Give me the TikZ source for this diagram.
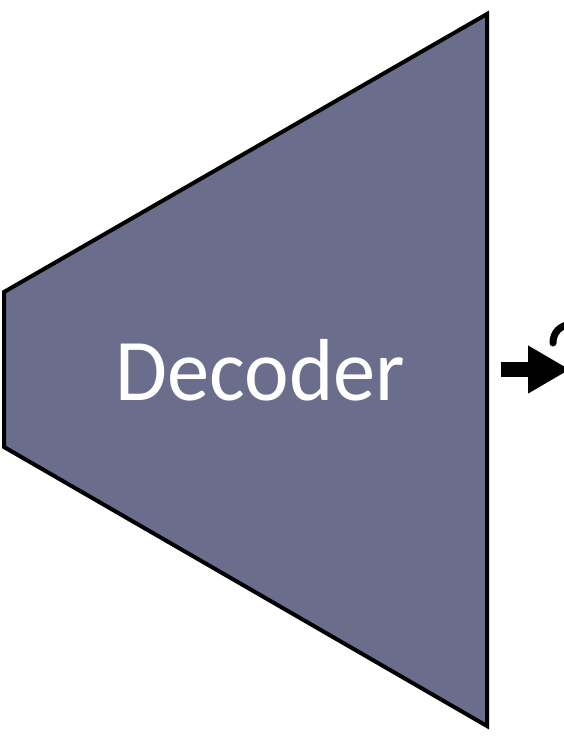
\documentclass[tikz,border=0pt]{standalone}
\usepackage{fontspec}
\setmainfont{Carlito}[FakeStretch=0.96]
\usetikzlibrary{arrows.meta}
\definecolor{decfill}{HTML}{6A6E8C}
\tikzset{
  decshape/.style={fill=decfill, draw=black, line width=4pt, line join=miter},
  outarrow/.style={line width=15pt, -{Triangle[length=42pt,width=45pt]}},
  declabel/.style={text=white, font=\fontsize{88}{100}\selectfont, anchor=base, inner sep=0pt}
}
\begin{document}
\begin{tikzpicture}[x=1pt,y=-1pt]
\useasboundingbox (0,0) rectangle (564,748);
\clip (0,0) rectangle (564,748);
\draw[decshape] (4,292) -- (487,14) -- (487,726) -- (4,447) -- cycle;
\node[declabel] (dec) at (260.5,400) {Decoder};
\coordinate (aout) at (501,369.5);
\coordinate (aend) at (570,369.5);
\draw[outarrow] (aout) -- (aend);
\draw[line width=7pt, line cap=round] (553,343) .. controls (553,332) and (560,326) .. (570,324);
\end{tikzpicture}
\end{document}
